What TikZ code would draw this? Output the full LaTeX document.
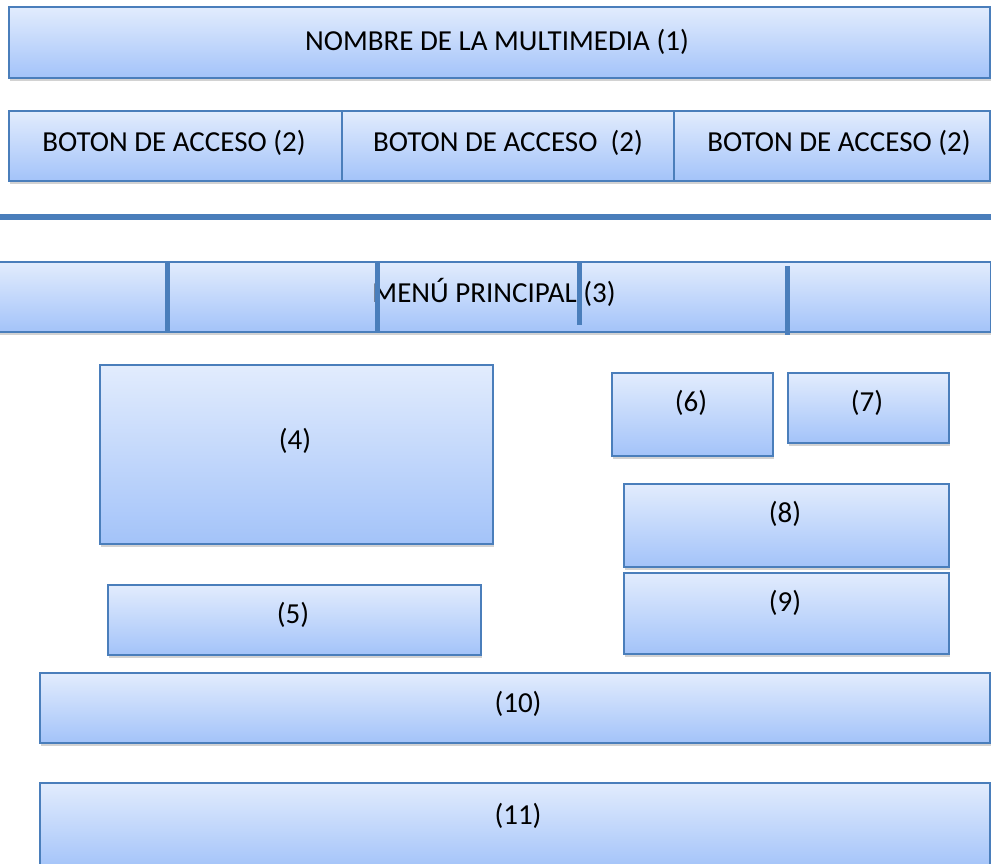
\documentclass[tikz,border=0pt]{standalone}
\usepackage{fontspec}
\setmainfont{Carlito}
\usetikzlibrary{shadows}
\definecolor{bordc}{HTML}{4A7EBB}
\definecolor{topc}{HTML}{E2ECFD}
\definecolor{botc}{HTML}{A3C3F9}
\tikzset{
  box/.style={draw=bordc, line width=1.8pt, top color=topc, bottom color=botc,
    anchor=north west, inner sep=0pt,
    drop shadow={shadow xshift=1.5pt, shadow yshift=-3pt, opacity=0.25, fill=black!70}},
  lbl/.style={font=\fontsize{29}{34}\selectfont, inner sep=0pt, anchor=center},
  divider/.style={draw=bordc, line width=5pt},
}
\newcommand{\mybox}[5]{% name, x1, y1, x2, y2
  \node[box, minimum width={(#4-#2)*1pt}, minimum height={(#5-#3)*1pt}] (#1) at (#2,#3) {};}
\begin{document}
\begin{tikzpicture}[x=1pt, y=-1pt]
\useasboundingbox (0,0) rectangle (991,863);
\mybox{b1}{8}{6}{989}{77}
\mybox{b2a}{8}{110}{341}{180}
\mybox{b2b}{341}{110}{673}{180}
\mybox{b2c}{673}{110}{989}{180}
\coordinate (hl) at (-2,217);
\coordinate (hr) at (993,217);
\draw[draw=bordc, line width=6pt] (hl) -- (hr);
\mybox{b3}{-2}{261}{990}{331}
\mybox{b4}{99}{364}{492}{543}
\mybox{b5}{107}{584}{480}{654}
\mybox{b6}{611}{372}{772}{455}
\mybox{b7}{787}{372}{948}{442}
\mybox{b8}{623}{483}{948}{566}
\mybox{b9}{623}{572}{948}{653}
\mybox{b10}{39}{672}{989}{742}
\mybox{b11}{39}{782}{989}{868}
\node[lbl] (t1) at (497,42) {NOMBRE DE LA MULTIMEDIA (1)};
\node[lbl] (t2a) at (174,143) {BOTON DE ACCESO (2)};
\node[lbl] (t2b) at (508,143) {BOTON DE ACCESO\ \ (2)};
\node[lbl] (t2c) at (839,143) {BOTON DE ACCESO (2)};
\node[lbl] (t3) at (494,292) {MENÚ PRINCIPAL (3)};
\node[lbl] (t4) at (295,441) {(4)};
\node[lbl] (t5) at (293,615) {(5)};
\node[lbl] (t6) at (691,403) {(6)};
\node[lbl] (t7) at (867,403) {(7)};
\node[lbl] (t8) at (785,514) {(8)};
\node[lbl] (t9) at (785,603) {(9)};
\node[lbl] (t10) at (518,704) {(10)};
\node[lbl] (t11) at (518,816) {(11)};
\coordinate (d1t) at (167,261); \coordinate (d1b) at (167,331);
\coordinate (d2t) at (377,261); \coordinate (d2b) at (377,331);
\coordinate (d3t) at (579,262); \coordinate (d3b) at (579,325);
\coordinate (d4t) at (787,266); \coordinate (d4b) at (787,335);
\draw[divider] (d1t) -- (d1b);
\draw[divider] (d2t) -- (d2b);
\draw[divider] (d3t) -- (d3b);
\draw[divider] (d4t) -- (d4b);
\end{tikzpicture}
\end{document}
